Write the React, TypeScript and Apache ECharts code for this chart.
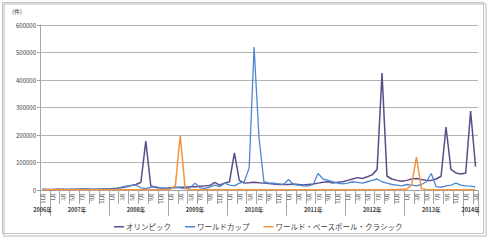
import React, { useEffect, useRef } from 'react';
import * as echarts from 'echarts';

// Axis structure: years and the months shown for each year (Nov 2006 – Mar 2014)
const yearLabels = ['2006年', '2007年', '2008年', '2009年', '2010年', '2011年', '2012年', '2013年', '2014年'];
const firstMonth = [11, 1, 1, 1, 1, 1, 1, 1, 1];
const monthCount = [2, 12, 12, 12, 12, 12, 12, 12, 3];

const seriesNames = ['オリンピック', 'ワールドカップ', 'ワールド・ベースボール・クラシック'];

// monthly values (件)
const olympic = [
  3000, 2000,
  2000, 2500, 3000, 2000, 2500, 3000, 3500, 4000, 3000, 3000, 3500, 4000,
  5000, 6000, 8000, 12000, 16000, 20000, 28000, 178000, 16000, 9000, 7000, 6000,
  8000, 9000, 10000, 10000, 12000, 12000, 14000, 15000, 16000, 28000, 18000, 25000,
  30000, 135000, 35000, 25000, 26000, 28000, 26000, 25000, 24000, 22000, 20000, 20000,
  20000, 22000, 20000, 18000, 20000, 22000, 25000, 28000, 30000, 25000, 28000, 30000,
  35000, 40000, 45000, 42000, 48000, 55000, 75000, 425000, 50000, 40000, 35000, 32000,
  35000, 40000, 42000, 38000, 35000, 35000, 40000, 50000, 229000, 75000, 62000, 58000,
  62000, 287000, 85000,
];
const worldCup = [
  2000, 1500,
  1500, 2000, 2000, 2500, 2500, 3000, 5000, 3000, 2500, 2500, 3000, 3000,
  3000, 4000, 10000, 14000, 16000, 18000, 8000, 5000, 10000, 12000, 8000, 6000,
  6000, 10000, 8000, 5000, 8000, 25000, 8000, 6000, 10000, 18000, 12000, 25000,
  18000, 15000, 25000, 30000, 80000, 520000, 190000, 30000, 25000, 25000, 22000, 20000,
  38000, 20000, 18000, 15000, 15000, 20000, 60000, 40000, 35000, 30000, 25000, 22000,
  25000, 30000, 28000, 25000, 30000, 35000, 40000, 30000, 25000, 20000, 18000, 15000,
  20000, 18000, 15000, 20000, 30000, 60000, 12000, 10000, 15000, 18000, 25000, 18000,
  15000, 14000, 11000,
];
const wbc = [
  1000, 800,
  800, 1000, 1500, 1000, 800, 800, 800, 800, 800, 800, 800, 800,
  800, 1000, 1500, 1000, 800, 800, 800, 800, 800, 800, 1000, 1500,
  3000, 15000, 198000, 5000, 1500, 1000, 800, 800, 800, 800, 800, 1000,
  1000, 1000, 1500, 1000, 800, 800, 800, 800, 800, 800, 800, 800,
  800, 800, 1000, 1000, 800, 800, 800, 800, 800, 800, 800, 800,
  800, 1000, 1000, 800, 800, 800, 800, 800, 1000, 1500, 2000, 2500,
  3000, 18000, 120000, 5000, 1500, 1000, 1000, 800, 800, 800, 800, 1000,
  1000, 1000, 1000,
];

const yTicks = [0, 100000, 200000, 300000, 400000, 500000, 600000];

export default function App() {
  const ref = useRef<HTMLDivElement>(null);

  useEffect(() => {
    if (!ref.current) return;
    const chart = echarts.init(ref.current, null, { renderer: 'svg' });

    const categories: string[] = [];
    const monthOf: string[] = [];
    const yearOf: string[] = [];
    const yearStart: boolean[] = [];
    const yearMid: boolean[] = [];
    yearLabels.forEach((y, yi) => {
      for (let k = 0; k < monthCount[yi]; k++) {
        const m = firstMonth[yi] + k;
        categories.push(`${y}${m}月`);
        monthOf.push(`${m}月`);
        yearOf.push(y);
        yearStart.push(k === 0);
        yearMid.push(k === Math.floor((monthCount[yi] - 1) / 2));
      }
    });

    const gray = '#a6a6a6';
    const font = "'Noto Sans CJK JP', 'Noto Sans', sans-serif";

    chart.setOption({
      animation: false,
      backgroundColor: '#ffffff',
      textStyle: { fontFamily: font },
      grid: { left: 40, right: 12, top: 25, bottom: 50 },
      legend: {
        left: 109,
        top: 218,
        icon: 'rect',
        itemWidth: 10,
        itemHeight: 1.5,
        itemGap: 14,
        textStyle: { fontSize: 7.5, color: '#404040', fontFamily: font, padding: [0, 0, 0, -3] },
        data: seriesNames,
      },
      xAxis: [
        {
          type: 'category',
          data: categories,
          boundaryGap: true,
          axisLine: { show: true, lineStyle: { color: gray, width: 1 } },
          axisTick: { show: true, interval: 1, length: 14, lineStyle: { color: gray } },
          axisLabel: {
            interval: 1,
            rotate: 90,
            fontSize: 5,
            color: '#404040',
            margin: 3,
            formatter: (_v: string, i: number) => monthOf[i],
          },
        },
        {
          type: 'category',
          data: categories,
          boundaryGap: true,
          position: 'bottom',
          axisLine: { show: false },
          axisTick: {
            show: true,
            interval: (i: number) => yearStart[i],
            length: 26,
            lineStyle: { color: gray },
          },
          axisLabel: {
            interval: (i: number) => yearMid[i],
            fontSize: 5.5,
            fontWeight: 'bold',
            color: '#404040',
            margin: 17,
            formatter: (_v: string, i: number) => yearOf[i],
          },
        },
      ],
      yAxis: {
        type: 'value',
        min: yTicks[0],
        max: yTicks[yTicks.length - 1],
        interval: 100000,
        axisLine: { show: true, lineStyle: { color: gray } },
        axisTick: { show: true, length: 3, lineStyle: { color: gray } },
        axisLabel: {
          fontSize: 6,
          color: '#404040',
          margin: 4,
          formatter: (v: number) => String(v),
        },
        splitLine: { lineStyle: { color: '#b4b4b4', width: 1 } },
      },
      series: [
        {
          name: seriesNames[0],
          type: 'line',
          data: olympic,
          symbol: 'none',
          lineStyle: { color: '#5e4c8a', width: 1.5 },
          itemStyle: { color: '#5e4c8a' },
        },
        {
          name: seriesNames[1],
          type: 'line',
          data: worldCup,
          symbol: 'none',
          lineStyle: { color: '#4f88cf', width: 1.3 },
          itemStyle: { color: '#4f88cf' },
        },
        {
          name: seriesNames[2],
          type: 'line',
          data: wbc,
          symbol: 'none',
          lineStyle: { color: '#f29440', width: 1.5 },
          itemStyle: { color: '#f29440' },
        },
      ],
      graphic: [
        {
          type: 'rect',
          silent: true,
          shape: { x: 4, y: 4, width: 482, height: 232 },
          style: { fill: 'none', stroke: '#dcdcdc', lineWidth: 2 },
          z: -1,
        },
        {
          type: 'rect',
          silent: true,
          shape: { x: 2.5, y: 2.5, width: 481, height: 231 },
          style: { fill: 'none', stroke: '#c4c4c4', lineWidth: 1 },
        },
        {
          type: 'text',
          left: 12,
          top: 8,
          style: { text: '(件)', fontSize: 6, fill: '#404040', fontFamily: font },
        },
      ],
    });

    return () => chart.dispose();
  }, []);

  return (
    <div
      ref={ref}
      style={{ position: 'fixed', left: 0, top: 0, width: 490, height: 240 }}
    />
  );
}
